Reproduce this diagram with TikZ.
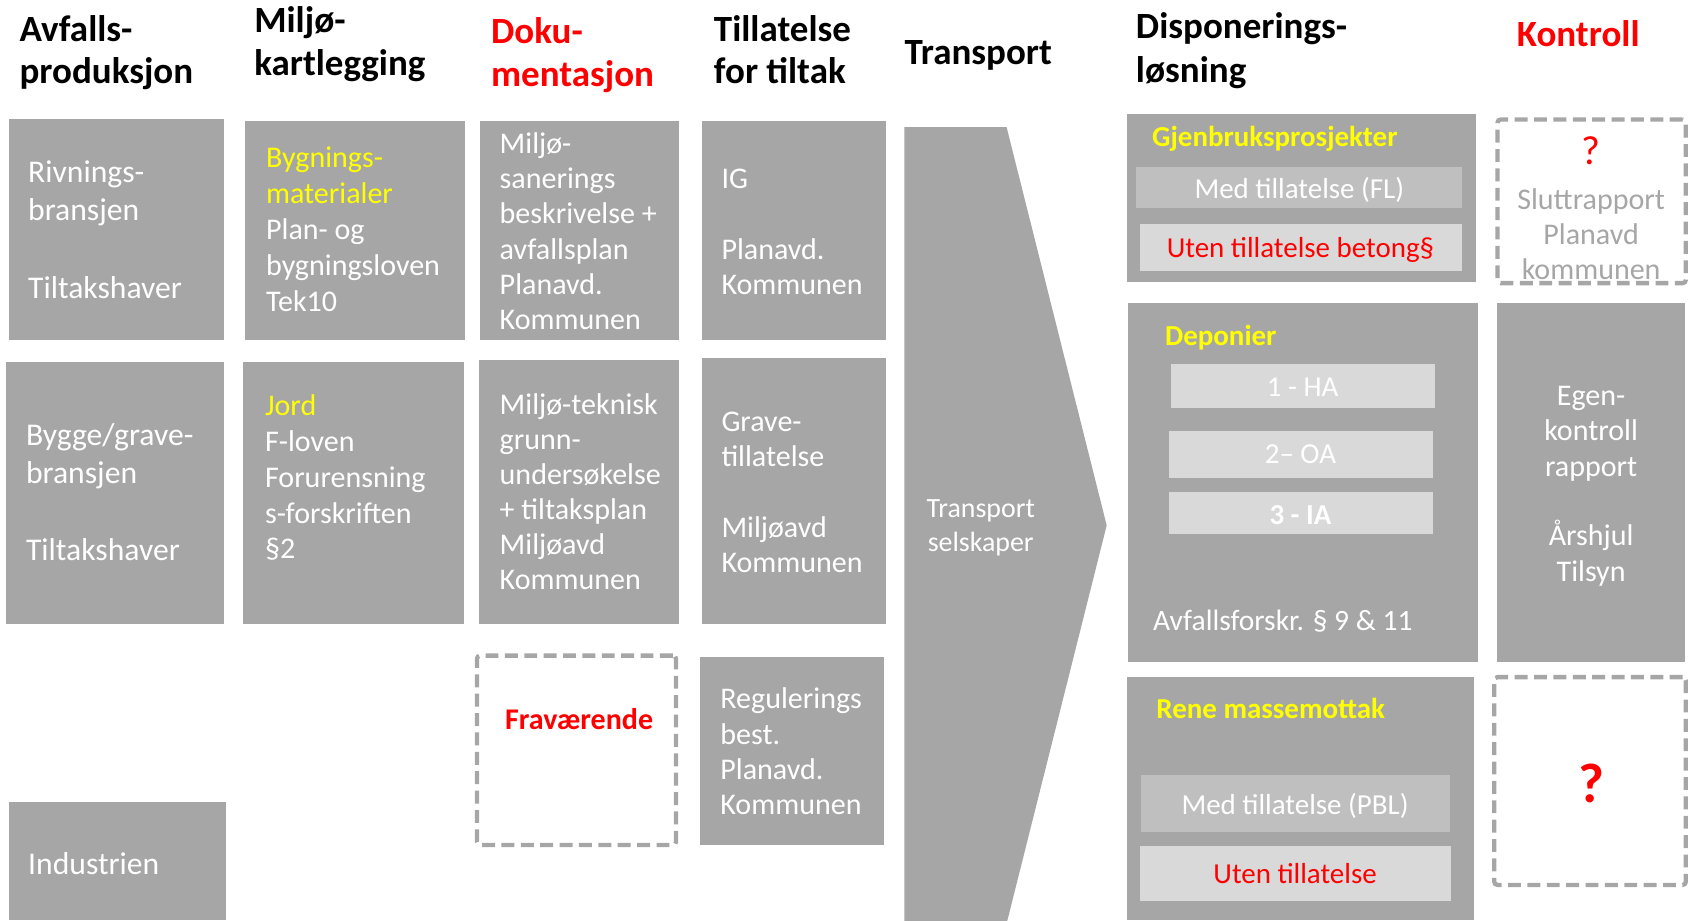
\documentclass[tikz,border=0pt]{standalone}
\usepackage{fontspec}
\setmainfont{Carlito}
\usetikzlibrary{fit}
\definecolor{boxgray}{HTML}{A6A6A6}
\definecolor{lightA}{HTML}{BFBFBF}
\definecolor{lightB}{HTML}{D9D9D9}
\definecolor{yel}{HTML}{FFFF00}
\definecolor{rd}{HTML}{FF0000}
\tikzset{
  box/.style={fill=boxgray, draw=none, inner sep=0pt},
  innerA/.style={fill=lightA, draw=none, inner sep=0pt},
  innerB/.style={fill=lightB, draw=none, inner sep=0pt},
  intxt/.style={text=white, inner sep=0pt, anchor=base, font=\fontsize{27}{32}\selectfont},
  dbox/.style={draw=boxgray, line width=4bp, dash pattern=on 12bp off 6bp, rounded corners=3bp, inner sep=0pt},
  txt/.style={text=white, inner sep=0pt, align=left, font=\fontsize{28}{33}\selectfont},
  hdr/.style={inner sep=0pt, align=left, font=\fontsize{34.5}{40}\selectfont\bfseries},
  ttl/.style={text=yel, inner sep=0pt, font=\fontsize{27}{31}\selectfont\bfseries},
}
\begin{document}
\begin{tikzpicture}[x=1bp,y=-1bp]
\useasboundingbox (0,0) rectangle (1568,855);

% headers (base anchor = last line baseline)
\node[hdr, anchor=base west] (h1) at (18,78) {Avfalls-\\produksjon};
\node[hdr, anchor=base west] (h2) at (236,70) {Miljø-\\kartlegging};
\node[hdr, anchor=base west, text=rd] (h3) at (456,80) {Doku-\\mentasjon};
\node[hdr, anchor=base west] (h4) at (663,78) {Tillatelse\\for tiltak};
\node[hdr, anchor=base west] (h5) at (840,60) {Transport};
\node[hdr, anchor=base west, font=\fontsize{34.5}{41}\selectfont\bfseries] (h6) at (1055,77) {Disponerings-\\løsning};
\node[hdr, anchor=base, text=rd] (h7) at (1466,43) {Kontroll};

% column 1
\node[box, fit={(8,111) (208,316)}] (a1) {};
\node[txt, anchor=base west, font=\fontsize{29.5}{36}\selectfont] (a1t) at (26,277) {Rivnings-\\bransjen\\[36bp]Tiltakshaver};
\node[box, fit={(6,336) (208,580)}] (a2) {};
\node[txt, anchor=base west, font=\fontsize{29.5}{35}\selectfont] (a2t) at (24,521) {Bygge/grave-\\bransjen\\[37bp]Tiltakshaver};
\node[box, fit={(8,745) (210,855)}] (a3) {};
\node[txt, anchor=base west, font=\fontsize{29.5}{35}\selectfont] (a3t) at (26,812) {Industrien};

% column 2
\node[box, fit={(228,112) (432,316)}] (b1) {};
\node[txt, anchor=base west, font=\fontsize{28}{33.5}\selectfont] (b1t) at (247,289) {{\color{yel}Bygnings-}\\{\color{yel}materialer}\\Plan- og\\bygningsloven\\Tek10};
\node[box, fit={(226,336) (431,580)}] (b2) {};
\node[txt, anchor=base west, font=\fontsize{28}{33.3}\selectfont] (b2t) at (246,519) {{\color{yel}Jord}\\F-loven\\Forurensning\\s-forskriften\\§2};

% column 3
\node[box, fit={(446,112) (631,316)}] (c1) {};
\node[txt, anchor=base west, font=\fontsize{28}{32.8}\selectfont] (c1t) at (464,306) {Miljø-\\sanerings\\beskrivelse +\\avfallsplan\\Planavd.\\Kommunen};
\node[box, fit={(445,334) (631,580)}] (c2) {};
\node[txt, anchor=base west, font=\fontsize{28}{32.8}\selectfont] (c2t) at (464,548) {Miljø-teknisk\\grunn-\\undersøkelse\\+ tiltaksplan\\Miljøavd\\Kommunen};
\node[dbox, fit={(443,609) (628,785)}] (c3) {};
\node[inner sep=0pt, text=rd, font=\fontsize{28}{33}\selectfont\bfseries, anchor=base] (c3t) at (538,678) {Fraværende};

% column 4
\node[box, fit={(652,112) (823,316)}] (d1) {};
\node[txt, anchor=base west] (d1t) at (670,274) {IG\\[33bp]Planavd.\\Kommunen};
\node[box, fit={(652,333) (823,580)}] (d2) {};
\node[txt, anchor=base west] (d2t) at (670,532) {Grave-\\tillatelse\\[33bp]Miljøavd\\Kommunen};
\node[box, fit={(650,610) (821,785)}] (d3) {};
\node[txt, anchor=base west] (d3t) at (669,757) {Regulerings\\best.\\Planavd.\\Kommunen};

% transport chevron
\fill[boxgray] (840,118) -- (935,118) -- (1028,488) -- (935,858) -- (840,858) -- cycle;
\node[txt, anchor=base, align=center, font=\fontsize{26}{31}\selectfont] (tt) at (911,512) {Transport\\selskaper};

% disponering column
\node[box, fit={(1047,106) (1371,262)}] (e1) {};
\node[ttl, anchor=base west] (e1t) at (1070,136) {Gjenbruksprosjekter};
\node[innerA, fit={(1055,155) (1358,193)}] (e1a) {};
\node[intxt] (e1at) at (1207,184) {Med tillatelse (FL)};
\node[innerB, fit={(1059,208) (1358,252)}] (e1b) {};
\node[intxt, text=rd] (e1bt) at (1208,239) {Uten tillatelse betong§};

\node[box, fit={(1048,281) (1373,615)}] (e2) {};
\node[ttl, anchor=base west] (e2t) at (1082,321) {Deponier};
\node[innerB, fit={(1088,338) (1333,379)}] (e2a) {};
\node[intxt] (e2at) at (1210,368) {1 - HA};
\node[innerB, fit={(1086,400) (1331,444)}] (e2b) {};
\node[intxt] (e2bt) at (1208,431) {2– OA};
\node[innerB, fit={(1086,457) (1331,496)}] (e2c) {};
\node[intxt, font=\fontsize{27}{32}\selectfont\bfseries] (e2ct) at (1208,487) {3 - IA};
\node[txt, anchor=base west, font=\fontsize{27.5}{32}\selectfont] (e2d) at (1071,586) {Avfallsforskr. § 9 \& 11};

\node[box, fit={(1047,629) (1369,855)}] (e3) {};
\node[ttl, anchor=base west] (e3t) at (1074,667) {Rene massemottak};
\node[innerA, fit={(1060,720) (1347,773)}] (e3a) {};
\node[intxt] (e3at) at (1203,757) {Med tillatelse (PBL)};
\node[innerB, fit={(1059,786) (1348,837)}] (e3b) {};
\node[intxt, text=rd] (e3bt) at (1203,821) {Uten tillatelse};

% kontroll column
\node[dbox, fit={(1391,111) (1566,263)}] (f1) {};
\node[inner sep=0pt, text=rd, font=\fontsize{38}{40}\selectfont, anchor=base] (f1q) at (1478,153) {?};
\node[txt, anchor=base, align=center, text=boxgray] (f1t) at (1478,260) {Sluttrapport\\Planavd\\kommunen};

\node[box, fit={(1391,281) (1565,615)}] (f2) {};
\node[txt, anchor=base, align=center] (f2t) at (1478,540) {Egen-\\kontroll\\rapport\\[32bp]Årshjul\\Tilsyn};

\node[dbox, fit={(1388,629) (1566,822)}] (f3) {};
\node[inner sep=0pt, text=rd, font=\fontsize{52}{56}\selectfont\bfseries, anchor=base] (f3q) at (1478,745) {?};
\end{tikzpicture}
\end{document}
